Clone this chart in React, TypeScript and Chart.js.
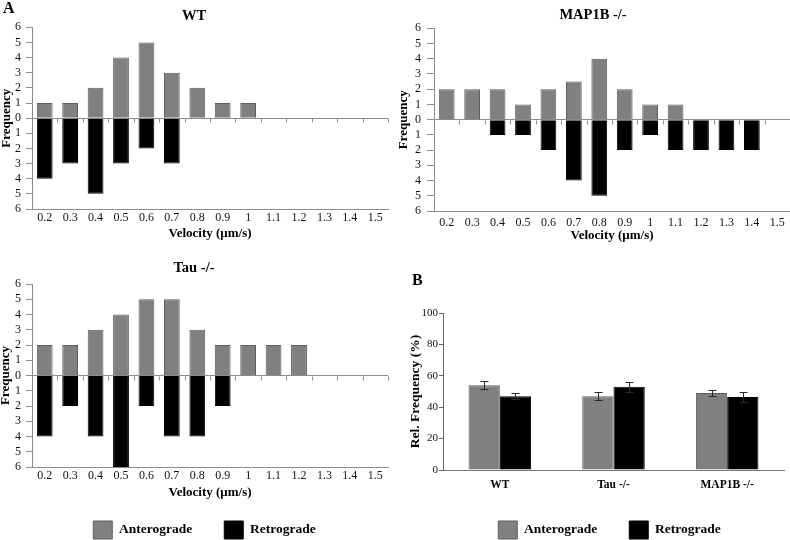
import React, { useEffect, useRef } from 'react';
import { Chart, registerables } from 'chart.js';

Chart.register(...registerables);

const FONT = "'Liberation Serif', 'Times New Roman', serif";

// ---------- data ----------
const velocities = ['0.2', '0.3', '0.4', '0.5', '0.6', '0.7', '0.8', '0.9', '1', '1.1', '1.2', '1.3', '1.4', '1.5'];

const wtAntero = [1, 1, 2, 4, 5, 3, 2, 1, 1, 0, 0, 0, 0, 0];
const wtRetro = [4, 3, 5, 3, 2, 3, 0, 0, 0, 0, 0, 0, 0, 0];

const map1bAntero = [2, 2, 2, 1, 2, 2.5, 4, 2, 1, 1, 0, 0, 0, 0];
const map1bRetro = [0, 0, 1, 1, 2, 4, 5, 2, 1, 2, 2, 2, 2, 0];

const tauAntero = [2, 2, 3, 4, 5, 5, 3, 2, 2, 2, 2, 0, 0, 0];
const tauRetro = [4, 2, 4, 6, 2, 4, 4, 2, 0, 0, 0, 0, 0, 0];

const groups = ['WT', 'Tau -/-', 'MAP1B -/-'];
const relAntero = [54, 47, 49];
const relAnteroErr = [2.4, 2.4, 1.8];
const relRetro = [47, 53, 46.5];
const relRetroErr = [2, 3.2, 3.5];

const freqTicks = [-6, 6, 1];
const relTicks = [0, 100, 20];

// ---------- styles ----------
const GRAY = '#808080';
const GRAY_EDGE = '#5e5e5e';
const AXIS = '#8c8c8c';

const zeroTicksPlugin = {
  id: 'zeroTicks',
  afterDatasetsDraw(chart: any) {
    const x = chart.scales.x;
    const y = chart.scales.y;
    const y0 = Math.round(y.getPixelForValue(0)) + 0.5;
    const ctx = chart.ctx;
    ctx.save();
    ctx.strokeStyle = AXIS;
    ctx.lineWidth = 1;
    ctx.beginPath();
    for (let i = 1; i <= x.ticks.length; i++) {
      const px = Math.round(x.getPixelForValue(i - 0.5)) + 0.5;
      ctx.moveTo(px, y0);
      ctx.lineTo(px, y0 + 4);
    }
    ctx.stroke();
    ctx.restore();
  },
};

const errorBarsPlugin = {
  id: 'errorBars',
  afterDatasetsDraw(chart: any, _args: any, opts: any) {
    const y = chart.scales.y;
    const ctx = chart.ctx;
    ctx.save();
    ctx.strokeStyle = '#2a2a2a';
    ctx.lineWidth = 1;
    chart.data.datasets.forEach((ds: any, di: number) => {
      const errs = opts.errors[di];
      const meta = chart.getDatasetMeta(di);
      meta.data.forEach((bar: any, i: number) => {
        const v = ds.data[i];
        const e = errs[i];
        const x = Math.round(bar.x) + 0.5;
        const yt = Math.round(y.getPixelForValue(v + e)) + 0.5;
        const yb = Math.round(y.getPixelForValue(v - e)) + 0.5;
        ctx.beginPath();
        ctx.moveTo(x, yt);
        ctx.lineTo(x, yb);
        ctx.moveTo(x - 4, yt);
        ctx.lineTo(x + 4, yt);
        ctx.moveTo(x - 4, yb);
        ctx.lineTo(x + 4, yb);
        ctx.stroke();
      });
    });
    ctx.restore();
  },
};

// nudges the centred legend sideways after layout
const legendShiftPlugin = {
  id: 'legendShift',
  afterLayout(chart: any, _args: any, opts: any) {
    const lg = chart.legend;
    if (lg && opts && opts.dx) {
      lg.left += opts.dx;
      lg.right += opts.dx;
    }
  },
};

const legendOpts = {
  display: true,
  position: 'bottom',
  fullSize: false,
  labels: {
    boxWidth: 19,
    boxHeight: 18,
    padding: 32,
    color: '#000',
    font: { family: FONT, size: 13.5, weight: 'bold' },
  },
};

function histConfig(title: string, antero: number[], retro: number[], lay: any) {
  return {
    type: 'bar',
    data: {
      labels: velocities,
      datasets: [
        { label: 'Anterograde', data: antero, backgroundColor: GRAY, borderColor: GRAY_EDGE, borderWidth: 1 },
        { label: 'Retrograde', data: retro.map((v) => -v), backgroundColor: '#000', borderColor: '#000', borderWidth: 1 },
      ],
    },
    options: {
      responsive: false,
      animation: false,
      layout: { padding: lay.padding },
      datasets: { bar: { categoryPercentage: 0.62, barPercentage: 1 } },
      plugins: {
        title: {
          display: true,
          text: title,
          color: '#000',
          font: { family: FONT, size: 14.5, weight: 'bold' },
          padding: lay.titlePad,
        },
        legend: lay.legend ? legendOpts : { display: false },
        legendShift: { dx: lay.legendDx || 0 },
        tooltip: { enabled: false },
      },
      scales: {
        x: {
          stacked: true,
          grid: { display: false, drawTicks: false },
          border: { display: true, color: AXIS },
          ticks: {
            color: '#111',
            font: { family: FONT, size: 12 },
            padding: lay.xTickPad,
            maxRotation: 0,
            autoSkip: false,
          },
          title: {
            display: true,
            text: 'Velocity (μm/s)',
            color: '#000',
            font: { family: FONT, size: 13, weight: 'bold' },
            padding: lay.xTitlePad,
          },
          afterFit: (s: any) => {
            s.height = lay.xHeight;
          },
        },
        y: {
          stacked: true,
          min: freqTicks[0],
          max: freqTicks[1],
          ticks: {
            stepSize: freqTicks[2],
            autoSkip: false,
            color: '#111',
            font: { family: FONT, size: 12 },
            padding: lay.yTickPad,
            callback: (v: any) => Math.abs(Number(v)),
          },
          grid: {
            color: (ctx: any) => (ctx.tick && ctx.tick.value === 0 ? AXIS : 'rgba(0,0,0,0)'),
            tickColor: AXIS,
            tickLength: lay.yTickLen,
          },
          border: { display: true, color: AXIS },
          title: {
            display: true,
            text: 'Frequency',
            color: '#000',
            font: { family: FONT, size: 13, weight: 'bold' },
            padding: { top: lay.yTitleTop, bottom: 0 },
          },
          afterFit: (s: any) => {
            s.width = lay.yWidth;
          },
        },
      },
    },
    plugins: [zeroTicksPlugin, legendShiftPlugin],
  };
}

function relConfig() {
  return {
    type: 'bar',
    data: {
      labels: groups,
      datasets: [
        { label: 'Anterograde', data: relAntero, backgroundColor: GRAY, borderColor: GRAY_EDGE, borderWidth: 1 },
        { label: 'Retrograde', data: relRetro, backgroundColor: '#000', borderColor: '#000', borderWidth: 1 },
      ],
    },
    options: {
      responsive: false,
      animation: false,
      layout: { padding: { left: 0, right: 6, top: 43, bottom: 1 } },
      datasets: { bar: { categoryPercentage: 0.55, barPercentage: 1 } },
      plugins: {
        legend: legendOpts,
        legendShift: { dx: -4 },
        tooltip: { enabled: false },
        errorBars: { errors: [relAnteroErr, relRetroErr] },
      },
      scales: {
        x: {
          grid: { display: false, drawTicks: false },
          border: { display: true, color: '#777' },
          ticks: { color: '#000', font: { family: FONT, size: 11.5, weight: 'bold' }, padding: 8, maxRotation: 0 },
          afterFit: (s: any) => {
            s.height = 19;
          },
        },
        y: {
          min: relTicks[0],
          max: relTicks[1],
          ticks: { stepSize: relTicks[2], color: '#111', font: { family: FONT, size: 11 }, padding: 1 },
          grid: { drawOnChartArea: false, tickLength: 4, tickColor: '#666', color: '#666' },
          border: { display: true, color: '#666' },
          title: {
            display: true,
            text: 'Rel. Frequency (%)',
            color: '#000',
            font: { family: FONT, size: 13.5, weight: 'bold' },
            padding: { top: 12.9, bottom: 0 },
          },
          afterFit: (s: any) => {
            s.width = 48;
          },
        },
      },
    },
    plugins: [errorBarsPlugin, legendShiftPlugin],
  };
}

function ChartCanvas(props: { left: number; top: number; width: number; height: number; build: () => any }) {
  const ref = useRef<HTMLCanvasElement>(null);
  useEffect(() => {
    const chart = new Chart(ref.current as HTMLCanvasElement, props.build());
    return () => chart.destroy();
  }, []);
  return (
    <canvas
      ref={ref}
      width={props.width}
      height={props.height}
      style={{ position: 'absolute', left: props.left, top: props.top, width: props.width, height: props.height }}
    />
  );
}

const letterStyle: React.CSSProperties = {
  position: 'absolute',
  fontFamily: FONT,
  fontWeight: 'bold',
  fontSize: 16,
  lineHeight: '16px',
  color: '#000',
};

export default function App() {
  return (
    <div style={{ position: 'absolute', left: 0, top: 0, width: 790, height: 540, overflow: 'hidden', background: '#fff' }}>
      <ChartCanvas
        left={0}
        top={0}
        width={395}
        height={250}
        build={() =>
          histConfig('WT', wtAntero, wtRetro, {
            padding: { left: 0, right: 7, top: 0, bottom: 8.2 },
            titlePad: { top: 7.1, bottom: 2.8 },
            xTickPad: 2,
            xTitlePad: { top: 0, bottom: 0 },
            xHeight: 32.8,
            yTickPad: 5,
            yTickLen: 6,
            yTitleTop: -1.1,
            yWidth: 32,
          })
        }
      />
      <ChartCanvas
        left={395}
        top={0}
        width={395}
        height={250}
        build={() =>
          histConfig('MAP1B -/-', map1bAntero, map1bRetro, {
            padding: { left: 1, right: 0, top: 0, bottom: 6.5 },
            titlePad: { top: 6.8, bottom: 4.1 },
            xTickPad: 4.5,
            xTitlePad: { top: 0, bottom: 0 },
            xHeight: 32.5,
            yTickPad: 6,
            yTickLen: 7,
            yTitleTop: -0.1,
            yWidth: 38,
          })
        }
      />
      <ChartCanvas
        left={0}
        top={250}
        width={395}
        height={300}
        build={() =>
          histConfig('Tau -/-', tauAntero, tauRetro, {
            padding: { left: 0, right: 7, top: 0, bottom: 1 },
            titlePad: { top: 9.8, bottom: 6.8 },
            xTickPad: 2,
            xTitlePad: { top: 0, bottom: -11.8 },
            xHeight: 22,
            yTickPad: 5,
            yTickLen: 6,
            yTitleTop: -2,
            yWidth: 32,
            legend: true,
            legendDx: -5.5,
          })
        }
      />
      <ChartCanvas left={395} top={270} width={395} height={280} build={relConfig} />
      <div style={{ ...letterStyle, left: 3, top: 0 }}>A</div>
      <div style={{ ...letterStyle, left: 412, top: 272 }}>B</div>
    </div>
  );
}
